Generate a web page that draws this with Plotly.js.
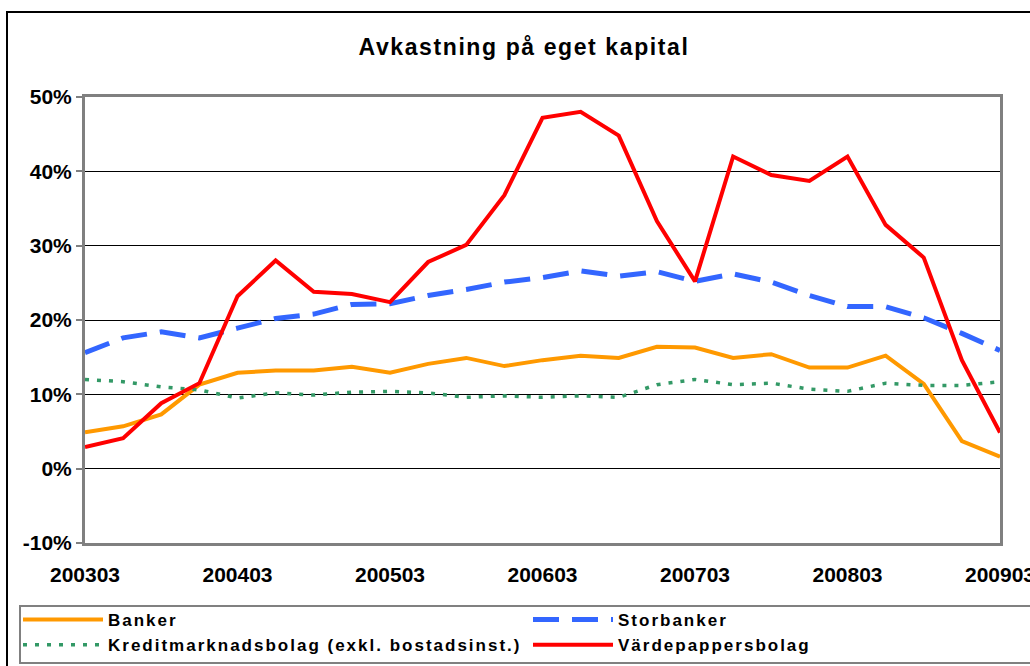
<!DOCTYPE html>
<html>
<head>
<meta charset="utf-8">
<script src="https://cdn.plot.ly/plotly-3.0.1.min.js"></script>
<style>
  html, body { margin: 0; padding: 0; background: #fff; }
  #chart { width: 1030px; height: 666px; }
  .legendtext, .infolayer [class*="legend"] text { letter-spacing: 2px; }
  .infolayer [class*="legend"] .scrollbox, .infolayer [class*="legend"] { clip-path: none !important; }
  .gtitle { letter-spacing: 1.6px; }
</style>
</head>
<body>
<div id="chart"></div>
<script>
// ---- data (values in percent) ----
const quarters = ["200303","200306","200309","200312","200403","200406","200409","200412",
  "200503","200506","200509","200512","200603","200606","200609","200612",
  "200703","200706","200709","200712","200803","200806","200809","200812","200903"];
const tickLabels = ["200303","200403","200503","200603","200703","200803","200903"];
const yTickValues = [-10, 0, 10, 20, 30, 40, 50];
const yTickLabels = ["-10%","0%","10%","20%","30%","40%","50%"];
const seriesNames = ["Banker","Storbanker","Kreditmarknadsbolag (exkl. bostadsinst.)","Värdepappersbolag"];
const banker = [4.9,5.7,7.3,11.3,12.9,13.2,13.2,13.7,12.9,14.1,14.9,13.8,14.6,15.2,14.9,16.4,16.3,14.9,15.4,13.6,13.6,15.2,11.4,3.7,1.6];
const storbanker = [15.6,17.6,18.4,17.6,18.9,20.2,20.8,22.1,22.2,23.3,24.1,25.1,25.7,26.6,25.9,26.5,25.2,26.2,25.1,23.3,21.8,21.8,20.3,18.2,15.9];
const kreditmarknadsbolag = [12.0,11.7,11.0,10.6,9.5,10.2,9.9,10.3,10.4,10.2,9.6,9.8,9.6,9.8,9.6,11.3,12.0,11.3,11.5,10.7,10.4,11.5,11.2,11.2,11.7];
const vardepappersbolag = [2.9,4.1,8.8,11.5,23.2,28.0,23.8,23.5,22.4,27.8,30.1,36.8,47.2,48.0,44.8,33.3,25.2,42.0,39.5,38.7,42.0,32.8,28.4,14.6,4.85];

// ---- layout geometry helpers (pixel -> paper) ----
const W = 1030, H = 666;
const M = { l: 85, r: 30, t: 97, b: 123, autoexpand: false };
const pw = W - M.l - M.r, ph = H - M.t - M.b;
const px = v => (v - M.l) / pw;
const py = v => (H - M.b - v) / ph;

const FONT = '"Liberation Sans", Arial, sans-serif';

const traces = [
  { x: quarters, y: banker, name: seriesNames[0], mode: 'lines', legend: 'legend',
    line: { color: '#FF9900', width: 4 }, hoverinfo: 'skip' },
  { x: quarters, y: storbanker, name: seriesNames[1], mode: 'lines', legend: 'legend2',
    line: { color: '#3366FF', width: 5, dash: '26px,13px' }, hoverinfo: 'skip' },
  { x: quarters, y: kreditmarknadsbolag, name: seriesNames[2], mode: 'lines', legend: 'legend',
    line: { color: '#339966', width: 3.5, dash: '4px,8px' }, hoverinfo: 'skip' },
  { x: quarters, y: vardepappersbolag, name: seriesNames[3], mode: 'lines', legend: 'legend2',
    line: { color: '#FF0000', width: 4 }, hoverinfo: 'skip' }
];

const legendBase = {
  orientation: 'v',
  xref: 'container', yref: 'container',
  xanchor: 'left', yanchor: 'top',
  y: 1 - 602 / H,
  itemwidth: 80,
  bgcolor: 'rgba(0,0,0,0)', borderwidth: 0,
  font: { family: FONT, size: 17, weight: 'bold', color: '#000' },
  traceorder: 'normal'
};

const layout = {
  width: W, height: H,
  margin: M,
  paper_bgcolor: '#ffffff',
  plot_bgcolor: '#ffffff',
  font: { family: FONT, color: '#000' },
  title: {
    text: 'Avkastning på eget kapital',
    font: { family: FONT, size: 23, weight: 'bold', color: '#000' },
    x: 524 / W, xref: 'container', xanchor: 'center',
    y: 1 - 47 / H, yref: 'container', yanchor: 'middle'
  },
  xaxis: {
    type: 'category',
    range: [0, quarters.length - 1],
    tickvals: tickLabels, ticktext: tickLabels,
    ticks: '', showgrid: false, zeroline: false,
    showline: true, mirror: true, linecolor: '#808080', linewidth: 3,
    ticklabelstandoff: 11,
    tickfont: { family: FONT, size: 21, weight: 'bold', color: '#000' },
    fixedrange: true
  },
  xaxis2: {
    overlaying: 'x', anchor: 'free', position: py(468.7),
    range: [0, quarters.length - 1], type: 'linear',
    tick0: 0, dtick: 2,
    ticks: 'outside', ticklen: 5, tickwidth: 2, tickcolor: '#808080',
    showticklabels: false, showgrid: false, zeroline: false,
    showline: true, linecolor: '#808080', linewidth: 2.5
  },
  yaxis: {
    range: [-10, 50],
    tickvals: yTickValues, ticktext: yTickLabels,
    ticks: 'outside', ticklen: 6, tickwidth: 2, tickcolor: '#808080',
    showgrid: true, gridcolor: '#000000', gridwidth: 1,
    zeroline: false,
    showline: true, mirror: true, linecolor: '#808080', linewidth: 3,
    tickfont: { family: FONT, size: 21, weight: 'bold', color: '#000' },
    fixedrange: true
  },
  showlegend: true,
  legend: Object.assign({}, legendBase, { x: 18 / W }),
  legend2: Object.assign({}, legendBase, { x: 528 / W }),
  shapes: [
    // outer chart border
    { type: 'rect', xref: 'paper', yref: 'paper', layer: 'below',
      x0: px(7), x1: px(1040), y0: py(12), y1: py(680),
      line: { color: '#000000', width: 2 }, fillcolor: 'rgba(0,0,0,0)' },
    // legend frame
    { type: 'rect', xref: 'paper', yref: 'paper', layer: 'below',
      x0: px(20), x1: px(1040), y0: py(606), y1: py(663),
      line: { color: '#808080', width: 2 }, fillcolor: 'rgba(0,0,0,0)' }
  ]
};

Plotly.newPlot('chart', traces, layout, { displayModeBar: false, staticPlot: true });
</script>
</body>
</html>
